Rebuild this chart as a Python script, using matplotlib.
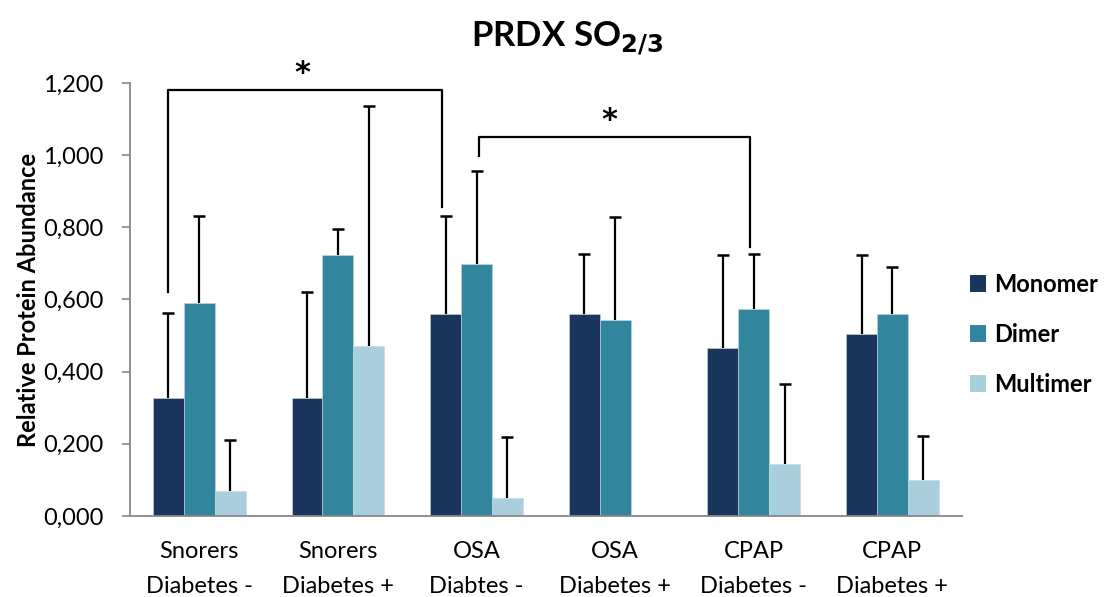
import matplotlib
matplotlib.use("Agg")
import matplotlib.pyplot as plt
import numpy as np
from matplotlib.ticker import FuncFormatter
from matplotlib.patches import Patch

plt.rcParams['font.family'] = ['Lato', 'DejaVu Sans']

categories = ["Snorers\nDiabetes -", "Snorers\nDiabetes +", "OSA\nDiabtes -",
              "OSA\nDiabetes +", "CPAP\nDiabetes -", "CPAP\nDiabetes +"]
series_names = ["Monomer", "Dimer", "Multimer"]
monomer = [0.326, 0.328, 0.559, 0.561, 0.465, 0.504]
dimer = [0.591, 0.723, 0.698, 0.544, 0.573, 0.559]
multimer = [0.069, 0.471, 0.050, 0.0, 0.144, 0.099]
monomer_err = [0.237, 0.294, 0.272, 0.164, 0.259, 0.219]
dimer_err = [0.239, 0.072, 0.259, 0.285, 0.152, 0.130]
multimer_err = [0.142, 0.666, 0.169, 0.0, 0.223, 0.122]
colors = ["#1b365d", "#31859c", "#a9cfdc"]
yticks = [0.0, 0.2, 0.4, 0.6, 0.8, 1.0, 1.2]

fig = plt.figure(figsize=(11.08, 5.97), dpi=100)
ax = fig.add_axes([0.1173, 0.1357, 0.7507, 0.7253])

x = np.arange(len(categories))
w = 0.223
vals = [monomer, dimer, multimer]
errs = [monomer_err, dimer_err, multimer_err]
for k in range(3):
    pos = x + (k - 1) * w
    v = np.array(vals[k])
    e = np.array(errs[k])
    mask = v > 0
    ax.bar(pos[mask], v[mask], width=w, color=colors[k], edgecolor='#c8d8e0',
           linewidth=0.4, zorder=2)
    top = v[mask] + e[mask]
    ax.vlines(pos[mask], v[mask], top, color='black', lw=1.6, zorder=3)
    ax.plot(pos[mask], top, linestyle='none', marker='_', markersize=8.6,
            markeredgewidth=1.8, color='black', zorder=3)

# significance brackets
lw = 1.6
ax.plot([-0.227, -0.227, 1.75, 1.75], [0.622, 1.181, 1.181, 0.855],
        color='black', lw=lw, zorder=4, clip_on=False)
ax.text(0.745, 1.225, "*", ha='center', va='center', fontsize=22,
        family='DejaVu Sans', fontweight='bold', clip_on=False)
ax.plot([2.018, 2.018, 3.973, 3.973], [0.999, 1.051, 1.051, 0.746],
        color='black', lw=lw, zorder=4, clip_on=False)
ax.text(2.96, 1.095, "*", ha='center', va='center', fontsize=22,
        family='DejaVu Sans', fontweight='bold', clip_on=False)

ax.set_xlim(-0.5, len(categories) - 0.5)
ax.set_ylim(0, 1.2)
ax.set_yticks(yticks)
ax.yaxis.set_major_formatter(FuncFormatter(lambda v, p: f"{v:.3f}".replace('.', ',')))
ax.set_xticks(x)
ax.set_xticklabels(categories, fontsize=17, linespacing=1.8)
ax.tick_params(axis='y', labelsize=17, direction='out', length=6, width=1.2,
               color='#888888', pad=13)
ax.tick_params(axis='x', length=0, pad=18)
for s in ['top', 'right']:
    ax.spines[s].set_visible(False)
for s in ['left', 'bottom']:
    ax.spines[s].set_color('#888888')
    ax.spines[s].set_linewidth(1.3)
ax.set_ylabel("Relative Protein Abundance", fontsize=17, fontweight='bold', labelpad=2)

fig.text(0.512, 0.935, r"PRDX SO$_{\mathbf{2/3}}$", ha='center', va='center',
         fontsize=25, fontweight='bold')

handles = [Patch(facecolor=c, edgecolor='none', label=n) for c, n in zip(colors, series_names)]
leg = fig.legend(handles=handles, loc='center left', bbox_to_anchor=(0.856, 0.44),
                 frameon=False, handlelength=0.7, handleheight=0.7,
                 handletextpad=0.35, labelspacing=1.15, prop={'size': 17, 'weight': 'bold'})

fig.savefig("out.png", dpi=100)
